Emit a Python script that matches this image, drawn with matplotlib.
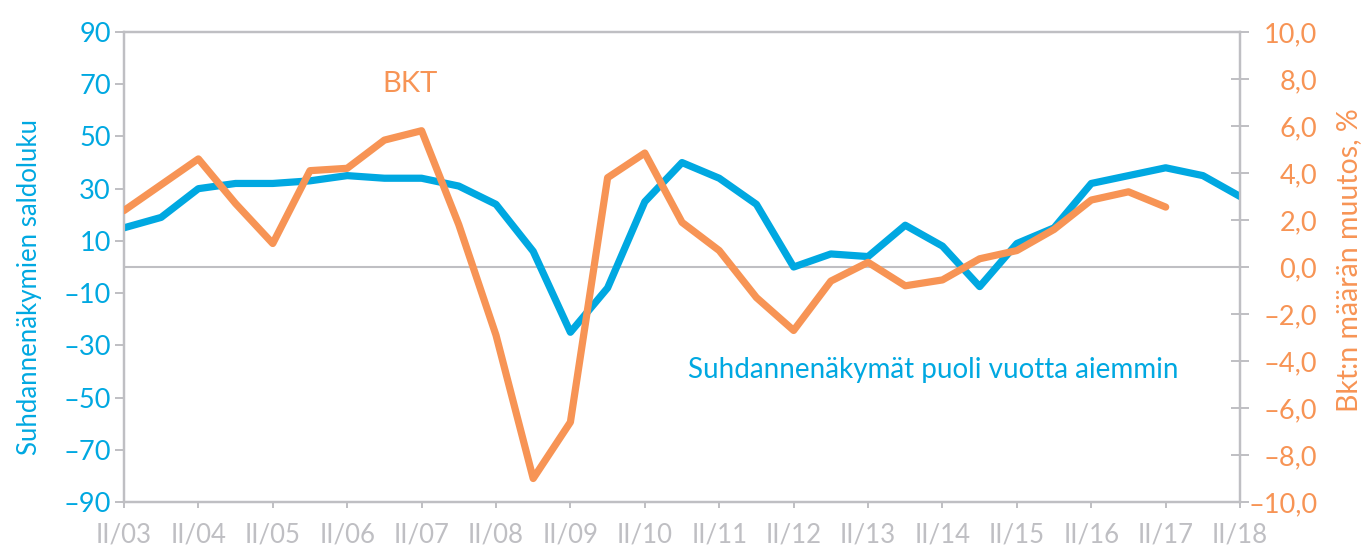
import matplotlib
matplotlib.use("Agg")
import matplotlib.pyplot as plt
from matplotlib.ticker import FixedLocator, FuncFormatter

plt.rcParams['font.family'] = ['Lato', 'DejaVu Sans']

# Half-year observations from II/03 to II/18
blue = [15, 19, 30, 32, 32, 33, 35, 34, 34, 31, 24, 6, -25, -8, 25, 40,
        34, 24, 0, 5, 4, 16, 8, -7.5, 9, 15, 32, 35, 38, 35, 27]
# BKT, II/03 to II/17
bkt = [2.4, 3.5, 4.6, 2.7, 1.0, 4.1, 4.2, 5.4, 5.8, 1.8, -2.9, -9.0, -6.6,
       3.8, 4.85, 1.9, 0.7, -1.3, -2.7, -0.6, 0.2, -0.8, -0.55, 0.35, 0.7,
       1.6, 2.85, 3.2, 2.55]
years = ['03', '04', '05', '06', '07', '08', '09', '10', '11', '12', '13',
         '14', '15', '16', '17', '18']

BLUE = '#00a8e1'
ORANGE = '#f79455'
GRAY = '#bfbfc3'

fig = plt.figure(figsize=(13.62, 5.49), dpi=100)
ax = fig.add_axes([0.091, 0.0856, 0.8195, 0.8561])
ax2 = ax.twinx()

x_blue = list(range(len(blue)))
x_bkt = list(range(len(bkt)))

ax.axhline(0, color=GRAY, lw=1.5, zorder=1)
ax.plot(x_blue, blue, color=BLUE, lw=5.2, solid_joinstyle='round',
        solid_capstyle='round', zorder=3)
ax2.plot(x_bkt, bkt, color=ORANGE, lw=5.2, solid_joinstyle='round',
         solid_capstyle='round', zorder=3)

ax.set_xlim(0, len(blue) - 1)
ax.set_ylim(-90, 90)
ax2.set_ylim(-10, 10)

def dash(s):
    return s.replace('-', '\u2013')

ax.yaxis.set_major_locator(FixedLocator(range(-90, 91, 20)))
ax.yaxis.set_major_formatter(FuncFormatter(lambda v, p: dash('%d' % v)))
ax2.yaxis.set_major_locator(FixedLocator(range(-10, 11, 2)))
ax2.yaxis.set_major_formatter(
    FuncFormatter(lambda v, p: dash(('%.1f' % v).replace('.', ','))))

ax.set_xticks(range(0, len(blue), 2))
ax.set_xticklabels(['II/' + y for y in years])

for a in (ax, ax2):
    for s in a.spines.values():
        s.set_color(GRAY)
        s.set_linewidth(1.6)

ax.tick_params(axis='y', colors=GRAY, labelcolor=BLUE, labelsize=19.5,
               length=6.5, width=1.4, direction='out', pad=3)
ax.tick_params(axis='x', colors=GRAY, labelcolor=GRAY, labelsize=18.5,
               length=4, width=1.4, direction='out', pad=10.5)
ax2.tick_params(axis='y', colors=GRAY, labelcolor=ORANGE, labelsize=19.5,
                length=13, width=1.4, direction='inout', pad=49)
for t in ax2.get_yticklabels():
    t.set_horizontalalignment('right')

fig.text(30 / 1362, 1 - 287 / 549, 'Suhdannenäkymien saldoluku', color=BLUE,
         fontsize=18.5, rotation=90, ha='center', va='center')
fig.text(1349 / 1362, 1 - 260 / 549, 'Bkt:n määrän muutos, %', color=ORANGE,
         fontsize=20.5, rotation=90, ha='center', va='center')

ax.text(7.69, 70, 'BKT', color=ORANGE, fontsize=21, ha='center', va='center')
ax.text(15.15, -39.4, 'Suhdannenäkymät puoli vuotta aiemmin', color=BLUE,
        fontsize=20, ha='left', va='center')

fig.savefig('out.png', dpi=100)
